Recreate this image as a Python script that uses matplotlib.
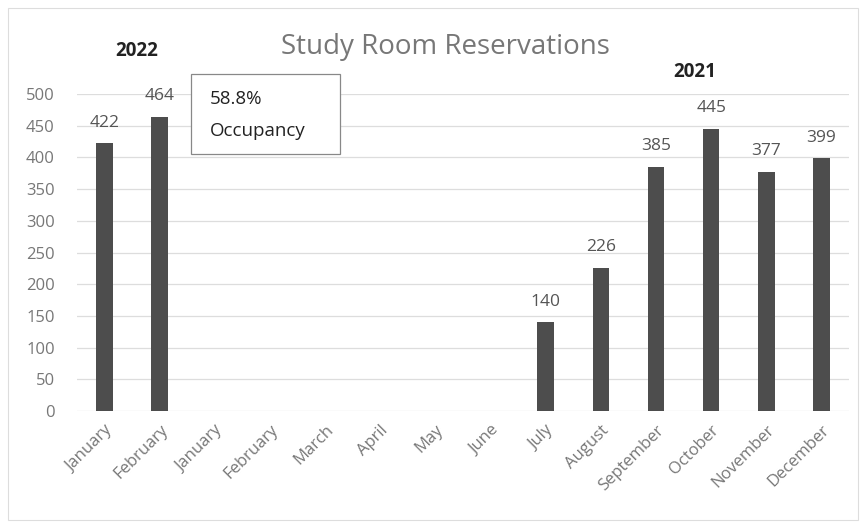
import matplotlib
matplotlib.use("Agg")
import matplotlib.pyplot as plt
import numpy as np
from matplotlib.patches import Rectangle

months = ["January", "February", "January", "February", "March", "April", "May",
          "June", "July", "August", "September", "October", "November", "December"]
reservations = [422, 464, np.nan, np.nan, np.nan, np.nan, np.nan, np.nan,
                140, 226, 385, 445, 377, 399]
yticks = list(range(0, 501, 50))

plt.rcParams['font.family'] = ['Open Sans', 'DejaVu Sans']

fig = plt.figure(figsize=(8.65, 5.28), dpi=100)
ax = fig.add_axes([77/865, 1-411/528, (849-77)/865, 317/528])

x = np.arange(len(months))
vals = np.array(reservations, dtype=float)
ax.bar(x, np.nan_to_num(vals), width=0.3, color="#4d4d4d", zorder=3)
for xi, v in zip(x, vals):
    if not np.isnan(v):
        ax.annotate(f"{int(v)}", (xi, v), xytext=(0, 9), textcoords="offset points",
                    ha="center", va="bottom", fontsize=12.5, color="#555555")

ax.set_xlim(-0.5, len(months) - 0.5)
ax.set_ylim(0, 500)
ax.set_yticks(yticks)
ax.set_yticklabels([str(t) for t in yticks], fontsize=12, color="#777777")
ax.set_xticks(x)
ax.set_xticklabels(months, rotation=45, ha="right", rotation_mode="anchor",
                   fontsize=12, color="#777777")
ax.tick_params(length=0)
ax.tick_params(axis='y', pad=16)
ax.tick_params(axis='x', pad=8)
ax.grid(axis='y', color="#dddddd", linewidth=0.9, zorder=0)
for s in ax.spines.values():
    s.set_visible(False)

fig.text(445/865, 1-47/528, "Study Room Reservations", ha="center", va="center",
         fontsize=20, color="#777777")
fig.text(137/865, 1-51/528, "2022", ha="center", va="center", fontsize=13.5,
         fontweight="bold", color="#222222")
fig.text(695/865, 1-72/528, "2021", ha="center", va="center", fontsize=13.5,
         fontweight="bold", color="#222222")

fig.patches.append(Rectangle((191/865, 1-154/528), 149/865, 80/528,
                             transform=fig.transFigure, fill=True, facecolor="white",
                             edgecolor="#888888", linewidth=0.9, zorder=5))
fig.text(210/865, 1-99/528, "58.8%", ha="left", va="center", fontsize=13.5,
         color="#222222", zorder=6)
fig.text(210/865, 1-131/528, "Occupancy", ha="left", va="center", fontsize=13.5,
         color="#222222", zorder=6)

fig.patches.append(Rectangle((8/865, 8/528), 850/865, 512/528,
                             transform=fig.transFigure, fill=False,
                             edgecolor="#dddddd", linewidth=0.8))

fig.savefig("out.png", dpi=100)
